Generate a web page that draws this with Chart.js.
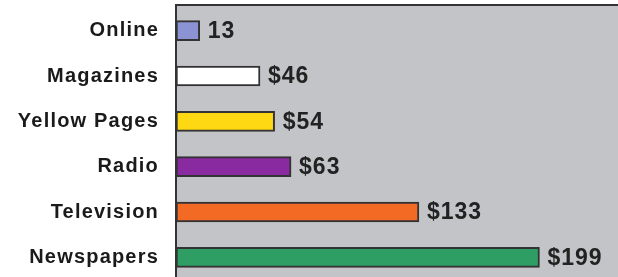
<!DOCTYPE html>
<html>
<head>
<meta charset="utf-8">
<script src="https://cdn.jsdelivr.net/npm/chart.js@4/dist/chart.umd.min.js"></script>
<style>
  body { margin: 0; background: #fff; overflow: hidden; }
  #wrap { width: 618px; height: 280px; }
</style>
</head>
<body>
<div id="wrap"><canvas id="chart" width="618" height="280"></canvas></div>
<script>
// data
const categories = ["Online", "Magazines", "Yellow Pages", "Radio", "Television", "Newspapers"];
const spending = [13, 46, 54, 63, 133, 199];
const valuePrefix = ["", "$", "$", "$", "$", "$"];
const barColors = ["#8c93d4", "#ffffff", "#ffd814", "#8a2aa0", "#f26a24", "#2e9e64"];

// gray plot panel with top and left rule
const panel = {
  id: "panel",
  beforeDraw(chart) {
    const { ctx, chartArea } = chart;
    ctx.save();
    ctx.fillStyle = "#c3c4c8";
    ctx.fillRect(chartArea.left, 5, chart.width - chartArea.left, chart.height - 5);
    ctx.strokeStyle = "#333";
    ctx.lineWidth = 2;
    ctx.beginPath();
    ctx.moveTo(chart.width, 5);
    ctx.lineTo(chartArea.left, 5);
    ctx.lineTo(chartArea.left, chart.height);
    ctx.stroke();
    ctx.restore();
    // spaced-out category labels
    ctx.letterSpacing = "1.2px";
  },
  beforeDatasetsDraw(chart) {
    chart.ctx.letterSpacing = "0px";
  },
  afterDatasetsDraw(chart) {
    const { ctx } = chart;
    const meta = chart.getDatasetMeta(0);
    ctx.save();
    ctx.font = "bold 23px 'Liberation Sans', Arial, sans-serif";
    ctx.letterSpacing = "1px";
    ctx.fillStyle = "#222";
    ctx.textAlign = "left";
    ctx.textBaseline = "middle";
    meta.data.forEach((bar, i) => {
      ctx.fillText(valuePrefix[i] + spending[i], bar.x + 8, bar.y + 1);
    });
    ctx.restore();
  }
};

new Chart(document.getElementById("chart"), {
  type: "bar",
  data: {
    labels: categories,
    datasets: [
      {
        data: spending,
        backgroundColor: barColors,
        borderColor: "#333",
        borderWidth: 2,
        borderSkipped: false,
        barThickness: 20,
      },
    ],
  },
  options: {
    indexAxis: "y",
    responsive: false,
    animation: false,
    layout: { padding: { top: 8, right: 0, bottom: 0, left: 0 } },
    plugins: { legend: { display: false }, tooltip: { enabled: false } },
    scales: {
      x: { display: false, min: 0, max: 242 },
      y: {
        grid: { display: false, drawTicks: false },
        border: { display: false },
        afterFit: (scale) => {
          scale.width = 176;
          scale.paddingTop = 0;
          scale.paddingBottom = 0;
        },
        ticks: {
          padding: 17,
          color: "#1a1a1a",
          font: { family: "'Liberation Sans', Arial, sans-serif", size: 20, weight: "bold" },
        },
      },
    },
  },
  plugins: [panel],
});
</script>
</body>
</html>
